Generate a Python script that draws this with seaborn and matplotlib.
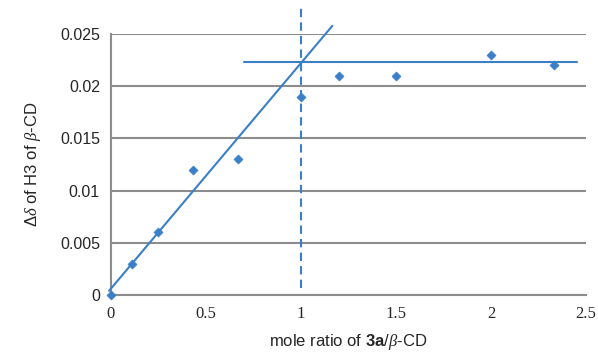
import numpy as np
import pandas as pd
import seaborn as sns
from matplotlib import pyplot as plt

# data
mole_ratio = [0, 0.11, 0.25, 0.43, 0.67, 1.0, 1.2, 1.5, 2.0, 2.33]
delta_shift = [0, 0.003, 0.006, 0.012, 0.013, 0.019, 0.021, 0.021, 0.023, 0.022]

# hand-drawn guide lines (x, y end points)
fit_x = [-0.01, 1.165]
fit_y = [0.0004, 0.0258]
plateau_x = [0.70, 2.45]
plateau_y = [0.0223, 0.0223]
stoich_x = [1.0, 1.0]
stoich_y = [0.0007, 0.0278]

x_ticks = [0, 0.5, 1, 1.5, 2, 2.5]
y_ticks = [0, 0.005, 0.01, 0.015, 0.02, 0.025]

blue = "#3a7fc8"
grid_gray = "#8c8c8c"

sns.set_style("white")
plt.rcParams['font.family'] = ['Liberation Sans', 'DejaVu Sans']
plt.rcParams['mathtext.fontset'] = 'custom'
plt.rcParams['mathtext.rm'] = 'Liberation Sans'
plt.rcParams['mathtext.it'] = 'Liberation Serif:italic'
plt.rcParams['mathtext.bf'] = 'Liberation Sans:bold'

df = pd.DataFrame({"ratio": mole_ratio, "shift": delta_shift})

fig = plt.figure(figsize=(5.98, 3.52), dpi=100)
ax = fig.add_axes([0.1856, 0.162, 0.7944, 0.741])

sns.scatterplot(data=df, x="ratio", y="shift", marker="D", s=22,
                color=blue, edgecolor=blue, ax=ax, zorder=4, clip_on=False)

ax.plot(fit_x, fit_y, color=blue, lw=1.5, clip_on=False, zorder=3)
ax.plot(plateau_x, plateau_y, color=blue, lw=1.5, clip_on=False, zorder=3)
ax.plot(stoich_x, stoich_y, color=blue, lw=1.5, ls=(0, (4, 2.5)),
        clip_on=False, zorder=3)

ax.set_xlim(0, 2.5)
ax.set_ylim(0, 0.025)
ax.set_xticks(x_ticks)
ax.set_xticklabels(["0", "0.5", "1", "1.5", "2", "2.5"],
                   family="Liberation Serif", fontsize=12)
ax.set_yticks(y_ticks)
ax.set_yticklabels(["0", "0.005", "0.01", "0.015", "0.02", "0.025"], fontsize=11.5)
ax.tick_params(axis="both", length=0, pad=8)

ax.yaxis.grid(True, color=grid_gray, lw=1.5)
ax.xaxis.grid(False)
ax.set_axisbelow(True)
for side in ["top", "right"]:
    ax.spines[side].set_visible(False)
ax.spines["left"].set_color(grid_gray)
ax.spines["left"].set_linewidth(1.5)
ax.spines["bottom"].set_color(grid_gray)
ax.spines["bottom"].set_linewidth(1.5)

ax.set_xlabel(r"mole ratio of $\mathbf{3a}$/$\beta$-CD", fontsize=12, labelpad=7)
ax.set_ylabel(r"$\Delta\delta$ of H3 of $\beta$-CD", fontsize=12, labelpad=12)

fig.savefig("out.png", dpi=100)
